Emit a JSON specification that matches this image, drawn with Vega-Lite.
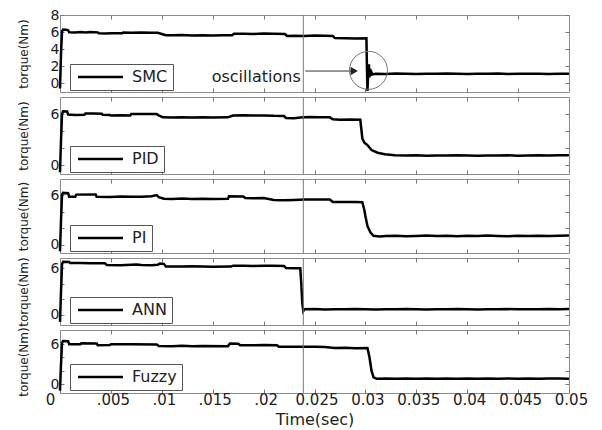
{
 "$schema": "https://vega.github.io/schema/vega-lite/v6.json",
 "padding": {"left": 16, "top": 7, "right": 5, "bottom": 0},
 "background": "white",
 "spacing": 5,
 "bounds": "flush",
 "datasets": {
  "smc": [{"t":0,"v":-0.6},{"t":0.0001,"v":3.5},{"t":0.0002,"v":6.1},{"t":0.0003,"v":6.3},{"t":0.0006,"v":6.28},{"t":0.0008,"v":6.22},{"t":0.0009,"v":5.98},{"t":0.0015,"v":5.95},{"t":0.002,"v":6.0},{"t":0.0025,"v":5.96},{"t":0.003,"v":6.02},{"t":0.0037,"v":5.97},{"t":0.0038,"v":5.87},{"t":0.0045,"v":5.85},{"t":0.005,"v":5.88},{"t":0.0061,"v":5.86},{"t":0.0062,"v":5.94},{"t":0.007,"v":5.92},{"t":0.008,"v":5.96},{"t":0.009,"v":5.93},{"t":0.0096,"v":5.92},{"t":0.01,"v":5.78},{"t":0.0104,"v":5.64},{"t":0.011,"v":5.62},{"t":0.012,"v":5.66},{"t":0.013,"v":5.6},{"t":0.014,"v":5.63},{"t":0.015,"v":5.6},{"t":0.016,"v":5.64},{"t":0.0169,"v":5.62},{"t":0.0171,"v":5.8},{"t":0.018,"v":5.82},{"t":0.019,"v":5.79},{"t":0.02,"v":5.83},{"t":0.021,"v":5.8},{"t":0.0221,"v":5.78},{"t":0.0223,"v":5.56},{"t":0.023,"v":5.58},{"t":0.024,"v":5.55},{"t":0.025,"v":5.6},{"t":0.026,"v":5.57},{"t":0.0268,"v":5.55},{"t":0.027,"v":5.3},{"t":0.028,"v":5.28},{"t":0.029,"v":5.25},{"t":0.0301,"v":5.27},{"t":0.03015,"v":2.0},{"t":0.0302,"v":-0.88},{"t":0.03025,"v":0.5},{"t":0.0303,"v":1.6},{"t":0.03035,"v":2.25},{"t":0.0304,"v":0.7},{"t":0.03045,"v":1.7},{"t":0.0305,"v":0.9},{"t":0.0306,"v":1.3},{"t":0.0307,"v":1.05},{"t":0.031,"v":1.12},{"t":0.032,"v":1.1},{"t":0.033,"v":1.15},{"t":0.034,"v":1.12},{"t":0.035,"v":1.1},{"t":0.036,"v":1.14},{"t":0.037,"v":1.12},{"t":0.038,"v":1.16},{"t":0.039,"v":1.12},{"t":0.04,"v":1.1},{"t":0.041,"v":1.14},{"t":0.042,"v":1.12},{"t":0.043,"v":1.15},{"t":0.044,"v":1.1},{"t":0.045,"v":1.13},{"t":0.046,"v":1.12},{"t":0.047,"v":1.14},{"t":0.048,"v":1.1},{"t":0.049,"v":1.13},{"t":0.05,"v":1.12}],
  "pid": [{"t":0,"v":-0.8},{"t":0.0001,"v":3.0},{"t":0.0002,"v":6.0},{"t":0.0003,"v":6.33},{"t":0.0007,"v":6.3},{"t":0.0008,"v":5.95},{"t":0.0015,"v":5.9},{"t":0.0024,"v":5.93},{"t":0.0025,"v":6.06},{"t":0.0033,"v":6.08},{"t":0.0041,"v":6.04},{"t":0.0042,"v":5.92},{"t":0.0049,"v":5.9},{"t":0.005,"v":5.83},{"t":0.006,"v":5.86},{"t":0.0069,"v":5.84},{"t":0.007,"v":6.0},{"t":0.008,"v":6.02},{"t":0.0095,"v":6.0},{"t":0.0097,"v":5.84},{"t":0.0101,"v":5.62},{"t":0.011,"v":5.6},{"t":0.012,"v":5.63},{"t":0.013,"v":5.6},{"t":0.014,"v":5.62},{"t":0.015,"v":5.59},{"t":0.0165,"v":5.62},{"t":0.017,"v":5.84},{"t":0.018,"v":5.86},{"t":0.019,"v":5.83},{"t":0.02,"v":5.85},{"t":0.021,"v":5.8},{"t":0.022,"v":5.78},{"t":0.0222,"v":5.55},{"t":0.023,"v":5.52},{"t":0.0236,"v":5.6},{"t":0.0245,"v":5.66},{"t":0.0255,"v":5.64},{"t":0.0265,"v":5.62},{"t":0.0268,"v":5.4},{"t":0.0275,"v":5.34},{"t":0.0285,"v":5.36},{"t":0.0295,"v":5.33},{"t":0.0297,"v":3.15},{"t":0.0299,"v":2.65},{"t":0.0302,"v":2.38},{"t":0.0306,"v":1.8},{"t":0.0312,"v":1.49},{"t":0.0319,"v":1.31},{"t":0.0329,"v":1.19},{"t":0.034,"v":1.16},{"t":0.035,"v":1.18},{"t":0.036,"v":1.14},{"t":0.037,"v":1.17},{"t":0.038,"v":1.15},{"t":0.039,"v":1.19},{"t":0.04,"v":1.16},{"t":0.041,"v":1.13},{"t":0.042,"v":1.17},{"t":0.043,"v":1.15},{"t":0.044,"v":1.18},{"t":0.045,"v":1.14},{"t":0.046,"v":1.16},{"t":0.047,"v":1.2},{"t":0.048,"v":1.15},{"t":0.049,"v":1.18},{"t":0.05,"v":1.2}],
  "pi": [{"t":0,"v":-0.8},{"t":0.0001,"v":3.0},{"t":0.0002,"v":6.1},{"t":0.0003,"v":6.31},{"t":0.0008,"v":6.28},{"t":0.0009,"v":5.85},{"t":0.0015,"v":5.83},{"t":0.0016,"v":6.1},{"t":0.0035,"v":6.12},{"t":0.0036,"v":5.84},{"t":0.005,"v":5.82},{"t":0.006,"v":5.86},{"t":0.007,"v":5.83},{"t":0.008,"v":5.85},{"t":0.009,"v":5.9},{"t":0.0095,"v":6.05},{"t":0.0097,"v":5.8},{"t":0.0102,"v":5.6},{"t":0.011,"v":5.58},{"t":0.012,"v":5.62},{"t":0.013,"v":5.57},{"t":0.014,"v":5.6},{"t":0.015,"v":5.58},{"t":0.0165,"v":5.6},{"t":0.0166,"v":5.9},{"t":0.018,"v":5.88},{"t":0.0182,"v":5.68},{"t":0.019,"v":5.66},{"t":0.02,"v":5.69},{"t":0.021,"v":5.45},{"t":0.022,"v":5.43},{"t":0.023,"v":5.46},{"t":0.024,"v":5.5},{"t":0.025,"v":5.52},{"t":0.0265,"v":5.5},{"t":0.0268,"v":5.2},{"t":0.028,"v":5.19},{"t":0.029,"v":5.21},{"t":0.0297,"v":5.18},{"t":0.0299,"v":4.2},{"t":0.03,"v":3.5},{"t":0.0302,"v":2.29},{"t":0.0305,"v":1.48},{"t":0.0308,"v":1.09},{"t":0.0314,"v":1.0},{"t":0.032,"v":1.06},{"t":0.033,"v":1.1},{"t":0.034,"v":1.05},{"t":0.035,"v":1.08},{"t":0.036,"v":1.12},{"t":0.037,"v":1.06},{"t":0.038,"v":1.09},{"t":0.039,"v":1.04},{"t":0.04,"v":1.1},{"t":0.041,"v":1.07},{"t":0.042,"v":1.12},{"t":0.043,"v":1.08},{"t":0.044,"v":1.05},{"t":0.045,"v":1.1},{"t":0.046,"v":1.07},{"t":0.047,"v":1.11},{"t":0.048,"v":1.06},{"t":0.049,"v":1.09},{"t":0.05,"v":1.12}],
  "ann": [{"t":0,"v":-0.9},{"t":0.0001,"v":3.0},{"t":0.0002,"v":6.5},{"t":0.0003,"v":6.82},{"t":0.0009,"v":6.8},{"t":0.001,"v":6.65},{"t":0.002,"v":6.66},{"t":0.003,"v":6.63},{"t":0.0044,"v":6.64},{"t":0.0046,"v":6.4},{"t":0.006,"v":6.38},{"t":0.007,"v":6.42},{"t":0.0075,"v":6.45},{"t":0.008,"v":6.4},{"t":0.009,"v":6.38},{"t":0.0096,"v":6.42},{"t":0.0098,"v":6.58},{"t":0.0102,"v":6.55},{"t":0.0104,"v":6.22},{"t":0.012,"v":6.2},{"t":0.013,"v":6.24},{"t":0.014,"v":6.2},{"t":0.015,"v":6.18},{"t":0.0168,"v":6.2},{"t":0.017,"v":6.32},{"t":0.018,"v":6.3},{"t":0.019,"v":6.28},{"t":0.02,"v":6.32},{"t":0.021,"v":6.3},{"t":0.022,"v":6.28},{"t":0.0222,"v":6.02},{"t":0.023,"v":6.0},{"t":0.0236,"v":5.98},{"t":0.0237,"v":4.0},{"t":0.0238,"v":1.5},{"t":0.0239,"v":0.5},{"t":0.024,"v":0.72},{"t":0.025,"v":0.74},{"t":0.026,"v":0.7},{"t":0.027,"v":0.73},{"t":0.028,"v":0.71},{"t":0.029,"v":0.74},{"t":0.03,"v":0.72},{"t":0.031,"v":0.7},{"t":0.032,"v":0.73},{"t":0.033,"v":0.71},{"t":0.034,"v":0.74},{"t":0.035,"v":0.72},{"t":0.036,"v":0.7},{"t":0.037,"v":0.73},{"t":0.038,"v":0.71},{"t":0.039,"v":0.74},{"t":0.04,"v":0.72},{"t":0.041,"v":0.7},{"t":0.042,"v":0.73},{"t":0.043,"v":0.72},{"t":0.044,"v":0.74},{"t":0.045,"v":0.71},{"t":0.046,"v":0.73},{"t":0.047,"v":0.72},{"t":0.048,"v":0.74},{"t":0.049,"v":0.71},{"t":0.05,"v":0.74}],
  "fuzzy": [{"t":0,"v":-1.0},{"t":0.0001,"v":3.0},{"t":0.0002,"v":6.2},{"t":0.0003,"v":6.45},{"t":0.0008,"v":6.42},{"t":0.0009,"v":5.95},{"t":0.002,"v":5.96},{"t":0.0021,"v":6.1},{"t":0.0036,"v":6.08},{"t":0.0037,"v":5.82},{"t":0.0049,"v":5.84},{"t":0.005,"v":5.95},{"t":0.007,"v":5.97},{"t":0.0095,"v":5.93},{"t":0.0097,"v":5.7},{"t":0.011,"v":5.68},{"t":0.012,"v":5.72},{"t":0.013,"v":5.66},{"t":0.014,"v":5.7},{"t":0.0165,"v":5.68},{"t":0.0167,"v":6.08},{"t":0.0175,"v":6.05},{"t":0.0177,"v":5.82},{"t":0.019,"v":5.8},{"t":0.02,"v":5.84},{"t":0.0213,"v":5.8},{"t":0.0215,"v":5.6},{"t":0.023,"v":5.58},{"t":0.024,"v":5.6},{"t":0.025,"v":5.58},{"t":0.026,"v":5.56},{"t":0.027,"v":5.4},{"t":0.028,"v":5.42},{"t":0.029,"v":5.38},{"t":0.0302,"v":5.4},{"t":0.0304,"v":4.0},{"t":0.0306,"v":2.0},{"t":0.0308,"v":1.0},{"t":0.0311,"v":0.8},{"t":0.032,"v":0.82},{"t":0.033,"v":0.78},{"t":0.034,"v":0.82},{"t":0.035,"v":0.8},{"t":0.036,"v":0.83},{"t":0.037,"v":0.79},{"t":0.038,"v":0.81},{"t":0.039,"v":0.78},{"t":0.04,"v":0.82},{"t":0.041,"v":0.8},{"t":0.042,"v":0.83},{"t":0.043,"v":0.79},{"t":0.044,"v":0.81},{"t":0.045,"v":0.8},{"t":0.046,"v":0.82},{"t":0.047,"v":0.78},{"t":0.048,"v":0.81},{"t":0.049,"v":0.83},{"t":0.05,"v":0.8}],
  "vline": [{"t":0.0239}],
  "osc": [{"t":0.0149,"v":0.15,"label":"oscillations"}],
  "arrow": [{"t":0.0241,"t2":0.0286,"v":1.45}],
  "head": [{"t":0.0289,"v":1.45}],
  "ring": [{"t":0.0303,"v":1.53}]
 },
 "vconcat": [
  {
   "width": 509, "height": 77,
   "layer": [
    {"data": {"name": "smc"}, "mark": {"type": "line", "strokeWidth": 2.5},
     "encoding": {
      "x": {"field": "t", "type": "quantitative", "scale": {"domain": [0, 0.05], "nice": false, "zero": false}, "axis": {"orient": "bottom", "values": [0.005,0.01,0.015,0.02,0.025,0.03,0.035,0.04,0.045], "labels": false, "title": null}},
      "y": {"field": "v", "type": "quantitative", "scale": {"domain": [-1, 8], "nice": false, "zero": false}, "axis": {"orient": "left", "values": [0,2,4,6,8], "title": "torque(Nm)"}},
      "color": {"datum": "SMC", "type": "nominal", "scale": {"range": ["black"]}, "legend": {"orient": "none", "legendX": 10, "legendY": 49, "title": null}}
     }},
    {"data": {"name": "osc"}, "mark": {"type": "text", "align": "left", "baseline": "alphabetic", "fontSize": 16, "color": "#222"},
     "encoding": {
      "x": {"field": "t", "type": "quantitative", "scale": {"domain": [0, 0.05], "nice": false, "zero": false}, "axis": null},
      "y": {"field": "v", "type": "quantitative", "scale": {"domain": [-1, 8], "nice": false, "zero": false}, "axis": null},
      "text": {"field": "label"}
     }},
    {"data": {"name": "arrow"}, "mark": {"type": "rule", "color": "#333", "strokeWidth": 1},
     "encoding": {
      "x": {"field": "t", "type": "quantitative", "scale": {"domain": [0, 0.05], "nice": false, "zero": false}, "axis": null},
      "x2": {"field": "t2"},
      "y": {"field": "v", "type": "quantitative", "scale": {"domain": [-1, 8], "nice": false, "zero": false}, "axis": null}
     }},
    {"data": {"name": "head"}, "mark": {"type": "point", "shape": "triangle-right", "filled": true, "color": "#222", "size": 70, "opacity": 1},
     "encoding": {
      "x": {"field": "t", "type": "quantitative", "scale": {"domain": [0, 0.05], "nice": false, "zero": false}, "axis": null},
      "y": {"field": "v", "type": "quantitative", "scale": {"domain": [-1, 8], "nice": false, "zero": false}, "axis": null}
     }},
    {"data": {"name": "ring"}, "mark": {"type": "point", "shape": "circle", "filled": false, "stroke": "#777", "strokeWidth": 1, "size": 1444, "opacity": 1},
     "encoding": {
      "x": {"field": "t", "type": "quantitative", "scale": {"domain": [0, 0.05], "nice": false, "zero": false}, "axis": null},
      "y": {"field": "v", "type": "quantitative", "scale": {"domain": [-1, 8], "nice": false, "zero": false}, "axis": null}
     }},
    {"data": {"name": "vline"}, "mark": {"type": "rule", "color": "#777", "strokeWidth": 1},
     "encoding": {
      "x": {"field": "t", "type": "quantitative", "scale": {"domain": [0, 0.05], "nice": false, "zero": false}, "axis": {"orient": "top", "values": [0.005,0.01,0.015,0.02,0.025,0.03,0.035,0.04,0.045], "labels": false, "title": null}},
      "y": {"datum": -1, "type": "quantitative", "scale": {"domain": [-1, 8], "nice": false, "zero": false}, "axis": {"orient": "right", "values": [0,2,4,6,8], "labels": false, "title": null}},
      "y2": {"datum": 8}
     }}
   ],
   "resolve": {"scale": {"x": "independent", "y": "independent", "color": "independent"}}
  },
  {
   "width": 509, "height": 77,
   "layer": [
    {"data": {"name": "pid"}, "mark": {"type": "line", "strokeWidth": 2.5},
     "encoding": {
      "x": {"field": "t", "type": "quantitative", "scale": {"domain": [0, 0.05], "nice": false, "zero": false}, "axis": {"orient": "bottom", "values": [0.005,0.01,0.015,0.02,0.025,0.03,0.035,0.04,0.045], "labels": false, "title": null}},
      "y": {"field": "v", "type": "quantitative", "scale": {"domain": [-1, 8], "nice": false, "zero": false}, "axis": {"orient": "left", "values": [0,2,4,6], "labelExpr": "datum.value == 0 || datum.value == 6 ? datum.label : ''", "title": "torque(Nm)"}},
      "color": {"datum": "PID", "type": "nominal", "scale": {"range": ["black"]}, "legend": {"orient": "none", "legendX": 10, "legendY": 49, "title": null}}
     }},
    {"data": {"name": "vline"}, "mark": {"type": "rule", "color": "#777", "strokeWidth": 1},
     "encoding": {
      "x": {"field": "t", "type": "quantitative", "scale": {"domain": [0, 0.05], "nice": false, "zero": false}, "axis": {"orient": "top", "values": [0.005,0.01,0.015,0.02,0.025,0.03,0.035,0.04,0.045], "labels": false, "title": null}},
      "y": {"datum": -1, "type": "quantitative", "scale": {"domain": [-1, 8], "nice": false, "zero": false}, "axis": {"orient": "right", "values": [0,2,4,6], "labels": false, "title": null}},
      "y2": {"datum": 8}
     }}
   ],
   "resolve": {"scale": {"x": "independent", "y": "independent", "color": "independent"}}
  },
  {
   "width": 509, "height": 74,
   "layer": [
    {"data": {"name": "pi"}, "mark": {"type": "line", "strokeWidth": 2.5},
     "encoding": {
      "x": {"field": "t", "type": "quantitative", "scale": {"domain": [0, 0.05], "nice": false, "zero": false}, "axis": {"orient": "bottom", "values": [0.005,0.01,0.015,0.02,0.025,0.03,0.035,0.04,0.045], "labels": false, "title": null}},
      "y": {"field": "v", "type": "quantitative", "scale": {"domain": [-1, 8], "nice": false, "zero": false}, "axis": {"orient": "left", "values": [0,2,4,6], "labelExpr": "datum.value == 0 || datum.value == 6 ? datum.label : ''", "title": "torque(Nm)"}},
      "color": {"datum": "PI", "type": "nominal", "scale": {"range": ["black"]}, "legend": {"orient": "none", "legendX": 10, "legendY": 46, "title": null}}
     }},
    {"data": {"name": "vline"}, "mark": {"type": "rule", "color": "#777", "strokeWidth": 1},
     "encoding": {
      "x": {"field": "t", "type": "quantitative", "scale": {"domain": [0, 0.05], "nice": false, "zero": false}, "axis": {"orient": "top", "values": [0.005,0.01,0.015,0.02,0.025,0.03,0.035,0.04,0.045], "labels": false, "title": null}},
      "y": {"datum": -1, "type": "quantitative", "scale": {"domain": [-1, 8], "nice": false, "zero": false}, "axis": {"orient": "right", "values": [0,2,4,6], "labels": false, "title": null}},
      "y2": {"datum": 8}
     }}
   ],
   "resolve": {"scale": {"x": "independent", "y": "independent", "color": "independent"}}
  },
  {
   "width": 509, "height": 67,
   "layer": [
    {"data": {"name": "ann"}, "mark": {"type": "line", "strokeWidth": 2.5},
     "encoding": {
      "x": {"field": "t", "type": "quantitative", "scale": {"domain": [0, 0.05], "nice": false, "zero": false}, "axis": {"orient": "bottom", "values": [0.005,0.01,0.015,0.02,0.025,0.03,0.035,0.04,0.045], "labels": false, "title": null}},
      "y": {"field": "v", "type": "quantitative", "scale": {"domain": [-1.3, 7.3], "nice": false, "zero": false}, "axis": {"orient": "left", "values": [0,2,4,6], "labelExpr": "datum.value == 0 || datum.value == 6 ? datum.label : ''", "title": "torque(Nm)"}},
      "color": {"datum": "ANN", "type": "nominal", "scale": {"range": ["black"]}, "legend": {"orient": "none", "legendX": 10, "legendY": 39, "title": null}}
     }},
    {"data": {"name": "vline"}, "mark": {"type": "rule", "color": "#777", "strokeWidth": 1},
     "encoding": {
      "x": {"field": "t", "type": "quantitative", "scale": {"domain": [0, 0.05], "nice": false, "zero": false}, "axis": {"orient": "top", "values": [0.005,0.01,0.015,0.02,0.025,0.03,0.035,0.04,0.045], "labels": false, "title": null}},
      "y": {"datum": -1.3, "type": "quantitative", "scale": {"domain": [-1.3, 7.3], "nice": false, "zero": false}, "axis": {"orient": "right", "values": [0,2,4,6], "labels": false, "title": null}},
      "y2": {"datum": 7.3}
     }}
   ],
   "resolve": {"scale": {"x": "independent", "y": "independent", "color": "independent"}}
  },
  {
   "width": 509, "height": 63,
   "layer": [
    {"data": {"name": "fuzzy"}, "mark": {"type": "line", "strokeWidth": 2.5},
     "encoding": {
      "x": {"field": "t", "type": "quantitative", "scale": {"domain": [0, 0.05], "nice": false, "zero": false}, "axis": {"orient": "bottom", "values": [0,0.005,0.01,0.015,0.02,0.025,0.03,0.035,0.04,0.045,0.05], "format": ".3~f", "labelExpr": "datum.value > 0.001 && datum.value < 0.0225 ? substring(datum.label, 1) : datum.label", "title": "Time(sec)", "labelOffset": {"condition": {"test": "datum.value == 0", "value": -10}, "value": 2}}},
      "y": {"field": "v", "type": "quantitative", "scale": {"domain": [-1.35, 8.1], "nice": false, "zero": false}, "axis": {"orient": "left", "values": [0,2,4,6], "labelExpr": "datum.value == 0 || datum.value == 6 ? datum.label : ''", "title": "torque(Nm)"}},
      "color": {"datum": "Fuzzy", "type": "nominal", "scale": {"range": ["black"]}, "legend": {"orient": "none", "legendX": 10, "legendY": 34, "title": null}}
     }},
    {"data": {"name": "vline"}, "mark": {"type": "rule", "color": "#777", "strokeWidth": 1},
     "encoding": {
      "x": {"field": "t", "type": "quantitative", "scale": {"domain": [0, 0.05], "nice": false, "zero": false}, "axis": {"orient": "top", "values": [0.005,0.01,0.015,0.02,0.025,0.03,0.035,0.04,0.045], "labels": false, "title": null}},
      "y": {"datum": -1.35, "type": "quantitative", "scale": {"domain": [-1.35, 8.1], "nice": false, "zero": false}, "axis": {"orient": "right", "values": [0,2,4,6], "labels": false, "title": null}},
      "y2": {"datum": 8.1}
     }}
   ],
   "resolve": {"scale": {"x": "independent", "y": "independent", "color": "independent"}}
  }
 ],
 "resolve": {"scale": {"x": "independent", "y": "independent", "color": "independent"}, "legend": {"color": "independent"}},
 "config": {
  "font": "DejaVu Sans",
  "view": {"stroke": "#8c8c8c", "strokeWidth": 1},
  "axis": {"domain": false, "grid": false, "tickColor": "#777", "tickSize": -4, "labelColor": "#222", "labelFont": "DejaVu Sans", "labelFontSize": 14, "titleFont": "DejaVu Sans", "titleFontWeight": "normal", "titleColor": "#222"},
  "axisX": {"labelFontSize": 15, "titleFontSize": 16, "labelPadding": 3, "titlePadding": 4, "labelFlush": false},
  "axisY": {"titleFontSize": 12, "titlePadding": 20, "labelPadding": 5},
  "legend": {"padding": 5, "strokeColor": "#555", "fillColor": "white", "symbolType": "M-1,0H8", "symbolSize": 100, "symbolStrokeWidth": 2.5, "symbolStrokeColor": "black", "labelFontSize": 16, "labelFont": "DejaVu Sans", "labelColor": "#222", "labelOffset": 41, "cornerRadius": 0}
 }
}
